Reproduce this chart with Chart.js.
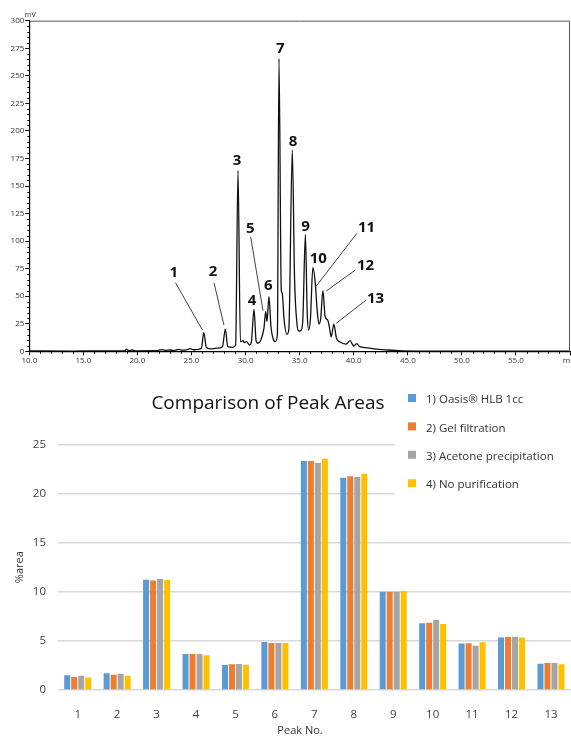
<!DOCTYPE html>
<html>
<head>
<meta charset="utf-8">
<script src="https://cdn.jsdelivr.net/npm/chart.js@4/dist/chart.umd.min.js"></script>
<style>
  body { margin: 0; background: #fff; }
  canvas { display: block; }
</style>
</head>
<body>
<canvas id="chrom" width="571" height="380"></canvas>
<canvas id="areas" width="571" height="357"></canvas>
<script>
// chromatogram trace (min, mV)
const retentionMin = [10.0, 14.0, 16.0, 18.8, 19.0, 19.2, 19.5, 19.8, 21.8, 22.2, 22.6, 23.0, 23.4, 23.8, 24.2, 24.6, 24.9, 25.2, 25.6,
  25.92, 26.13, 26.38, 26.8, 27.3, 27.86, 28.13, 28.35, 28.8, 29.08, 29.3, 29.52, 29.76, 29.9, 30.07, 30.38, 30.54, 30.78, 30.98,
  31.15, 31.4, 31.7, 31.86, 31.98, 32.16, 32.35, 32.53, 32.75, 32.94, 33.09, 33.3, 33.39, 33.55, 33.82, 34.0, 34.32, 34.53, 34.75,
  34.93, 35.15, 35.3, 35.53, 35.7, 35.83, 36.0, 36.22, 36.45, 36.6, 36.78, 36.95, 37.15, 37.35, 37.61, 37.75, 37.92, 38.16, 38.4,
  38.7, 39.3, 39.67, 39.9, 40.0, 40.3, 40.5, 40.84, 41.5, 42.37, 43.2, 44.2, 46.0, 60.0];
const signalMv = [0.3, 0.2, 0.4, 0.3, 1.8, 0.6, 1.2, 0.4, 0.5, 1.6, 0.8, 1.2, 0.7, 1.8, 1.0, 1.5, 2.4, 1.4, 1.8,
  2.7, 16.9, 3.5, 2.2, 2.8, 4.2, 20.2, 4.2, 3.5, 5.7, 164, 8.7, 9.6, 8.0, 8.7, 5.7, 8.7, 38, 9.0,
  7.3, 10, 21, 36, 27, 49.5, 22, 11.8, 8.7, 15, 265.6, 55.6, 52.6, 30, 15.4, 20, 182.5, 66, 25,
  18.4, 19.3, 30, 106, 35, 19.3, 30, 76, 61.6, 40, 24.7, 30, 55, 32, 28, 22, 13, 24.7, 12,
  8.7, 6.6, 9.6, 6.0, 4.8, 7.0, 4.5, 3.6, 2.8, 1.8, 1.2, 0.5, 0.2, 0.2];

// peak number callouts, placed in data units (min, mV)
const callouts = [
  { text: '1', t: 23.36, mv: 71.2, from: [23.52, 62.2], to: [26.01, 19.3] },
  { text: '2', t: 26.99, mv: 72.1, from: [27.08, 62.2], to: [28.0, 23.8] },
  { text: '3', t: 29.21, mv: 172.5 },
  { text: '4', t: 30.59, mv: 45.9 },
  { text: '5', t: 30.44, mv: 111.5, from: [30.47, 103.9], to: [31.61, 36.8] },
  { text: '6', t: 32.1, mv: 59.2 },
  { text: '7', t: 33.21, mv: 274.6 },
  { text: '8', t: 34.38, mv: 190.6 },
  { text: '9', t: 35.55, mv: 112.9 },
  { text: '10', t: 36.72, mv: 84.3 },
  { text: '11', t: 41.18, mv: 112, from: [40.29, 107], to: [36.54, 59.2] },
  { text: '12', t: 41.09, mv: 77.6, from: [40.14, 73.7], to: [37.46, 54.7] },
  { text: '13', t: 42.01, mv: 48, from: [41.15, 46.5], to: [38.38, 25.4] }
];

// peak area comparison (%area)
const peakNo = ['1', '2', '3', '4', '5', '6', '7', '8', '9', '10', '11', '12', '13'];
const oasisHlb = [1.49, 1.70, 11.23, 3.66, 2.54, 4.88, 23.3, 21.6, 10.0, 6.78, 4.72, 5.33, 2.68];
const gelFiltration = [1.32, 1.56, 11.13, 3.66, 2.61, 4.78, 23.3, 21.74, 10.0, 6.85, 4.75, 5.39, 2.75];
const acetonePrecip = [1.46, 1.66, 11.30, 3.66, 2.65, 4.78, 23.1, 21.68, 10.0, 7.12, 4.51, 5.43, 2.75];
const noPurification = [1.26, 1.46, 11.19, 3.53, 2.58, 4.78, 23.54, 22.0, 10.07, 6.72, 4.85, 5.33, 2.61];
const seriesNames = ['1) Oasis\u00AE HLB 1cc', '2) Gel filtration', '3) Acetone precipitation', '4) No purification'];
const seriesColors = ['#5B9BD5', '#ED7D31', '#A5A5A5', '#FFC000'];

const FONT = '"Open Sans", "Noto Sans", sans-serif';

// frame, minor ticks, mV unit and peak labels for the chromatogram
const chromDecor = {
  id: 'chromDecor',
  afterDraw(chart) {
    const ctx = chart.ctx, a = chart.chartArea;
    const xs = chart.scales.x, ys = chart.scales.y;
    ctx.save();
    ctx.strokeStyle = '#555';
    ctx.lineWidth = 1;
    ctx.beginPath();
    ctx.moveTo(a.left, a.top + 0.5);
    ctx.lineTo(a.right - 0.5, a.top + 0.5);
    ctx.lineTo(a.right - 0.5, a.bottom);
    ctx.stroke();

    ctx.strokeStyle = '#000';
    ctx.beginPath();
    for (let v = 5; v < 300; v += 5) {
      if (v % 25 === 0) continue;
      const y = Math.round(ys.getPixelForValue(v)) + 0.5;
      ctx.moveTo(a.left - 2, y);
      ctx.lineTo(a.left, y);
    }
    for (let t = 11; t < 60; t++) {
      if (t % 5 === 0) continue;
      const x = Math.round(xs.getPixelForValue(t)) + 0.5;
      ctx.moveTo(x, a.bottom);
      ctx.lineTo(x, a.bottom + 2.5);
    }
    ctx.stroke();

    ctx.fillStyle = '#333';
    ctx.font = '7.5px ' + FONT;
    ctx.textAlign = 'center';
    ctx.textBaseline = 'middle';
    ctx.fillText('mV', a.left + 1, a.top - 6);

    ctx.lineWidth = 0.8;
    ctx.strokeStyle = '#111';
    ctx.fillStyle = '#111';
    ctx.font = 'bold 15px ' + FONT;
    callouts.forEach(c => {
      ctx.fillText(c.text, xs.getPixelForValue(c.t), ys.getPixelForValue(c.mv));
      if (c.from) {
        ctx.beginPath();
        ctx.moveTo(xs.getPixelForValue(c.from[0]), ys.getPixelForValue(c.from[1]));
        ctx.lineTo(xs.getPixelForValue(c.to[0]), ys.getPixelForValue(c.to[1]));
        ctx.stroke();
      }
    });
    ctx.restore();
  }
};

// title, legend box and axis titles for the bar chart
const areaDecor = {
  id: 'areaDecor',
  afterDraw(chart) {
    const ctx = chart.ctx, a = chart.chartArea;
    ctx.save();
    ctx.fillStyle = '#111';
    ctx.font = '19px ' + FONT;
    ctx.textAlign = 'center';
    ctx.textBaseline = 'middle';
    ctx.fillText('Comparison of Peak Areas', 268, 24);

    ctx.fillStyle = '#fff';
    ctx.fillRect(395, 0, chart.width - 395, 120);
    ctx.font = '11.5px ' + FONT;
    ctx.textAlign = 'left';
    seriesNames.forEach((name, i) => {
      const y = 20 + i * 28.4;
      ctx.fillStyle = seriesColors[i];
      ctx.fillRect(408, y - 6, 8, 8);
      ctx.fillStyle = '#333';
      ctx.fillText(name, 426, y);
    });

    ctx.fillStyle = '#333';
    ctx.font = '11px ' + FONT;
    ctx.textAlign = 'center';
    ctx.fillText('Peak No.', 300, 351);
    ctx.translate(20, (a.top + a.bottom) / 2);
    ctx.rotate(-Math.PI / 2);
    ctx.fillText('%area', 0, 0);
    ctx.restore();
  }
};

function drawChromatogram() {
  const points = retentionMin.map((t, i) => ({ x: t, y: signalMv[i] }));
  new Chart(document.getElementById('chrom').getContext('2d'), {
    type: 'scatter',
    data: {
      datasets: [{
        data: points, showLine: true, borderColor: '#111', borderWidth: 1.3,
        pointRadius: 0, cubicInterpolationMode: 'monotone'
      }]
    },
    options: {
      responsive: false,
      animation: false,
      layout: { padding: { top: 20.7, right: 1, left: 0, bottom: 0 } },
      plugins: { legend: { display: false }, tooltip: { enabled: false } },
      scales: {
        x: {
          type: 'linear', min: 10, max: 60,
          ticks: {
            stepSize: 5, autoSkip: false, maxRotation: 0, padding: 1, color: '#333',
            font: { family: FONT, size: 8 },
            callback: v => (v === 60 ? 'min' : v.toFixed(1))
          },
          grid: { drawOnChartArea: false, tickLength: 4, color: '#000' },
          border: { color: '#000', width: 1.2 },
          afterFit: s => { s.height = 28.7; s.paddingLeft = 0; s.paddingRight = 0; }
        },
        y: {
          min: 0, max: 300,
          ticks: { stepSize: 25, padding: 1, color: '#333', font: { family: FONT, size: 8 } },
          grid: { drawOnChartArea: false, tickLength: 4, color: '#000' },
          border: { color: '#000', width: 1.2 },
          afterFit: s => { s.width = 29.3; s.paddingTop = 0; s.paddingBottom = 0; }
        }
      }
    },
    plugins: [chromDecor]
  });
}

function drawAreas() {
  const values = [oasisHlb, gelFiltration, acetonePrecip, noPurification];
  new Chart(document.getElementById('areas').getContext('2d'), {
    type: 'bar',
    data: {
      labels: peakNo,
      datasets: values.map((v, i) => ({
        label: seriesNames[i], data: v, backgroundColor: seriesColors[i],
        borderWidth: 0, barPercentage: 0.86, categoryPercentage: 0.71
      }))
    },
    options: {
      responsive: false,
      animation: false,
      layout: { padding: { top: 64.3, right: 0.3, left: 0, bottom: 0 } },
      plugins: { legend: { display: false }, tooltip: { enabled: false } },
      scales: {
        x: {
          grid: { display: false },
          border: { display: false },
          ticks: { padding: 10, color: '#404040', font: { family: FONT, size: 11.5 } },
          afterFit: s => { s.height = 47; s.paddingLeft = 0; s.paddingRight = 0; }
        },
        y: {
          min: 0, max: 25,
          ticks: { stepSize: 5, padding: 12, color: '#404040', font: { family: FONT, size: 11.5 } },
          grid: { color: '#d9d9d9', lineWidth: 1.5, drawTicks: false },
          border: { display: false },
          afterFit: s => { s.width = 58; s.paddingTop = 0; s.paddingBottom = 0; }
        }
      }
    },
    plugins: [areaDecor]
  });
}

document.fonts.load('15px "Open Sans"').then(() => document.fonts.load('bold 15px "Open Sans"')).then(() => {
  drawChromatogram();
  drawAreas();
});
</script>
</body>
</html>
